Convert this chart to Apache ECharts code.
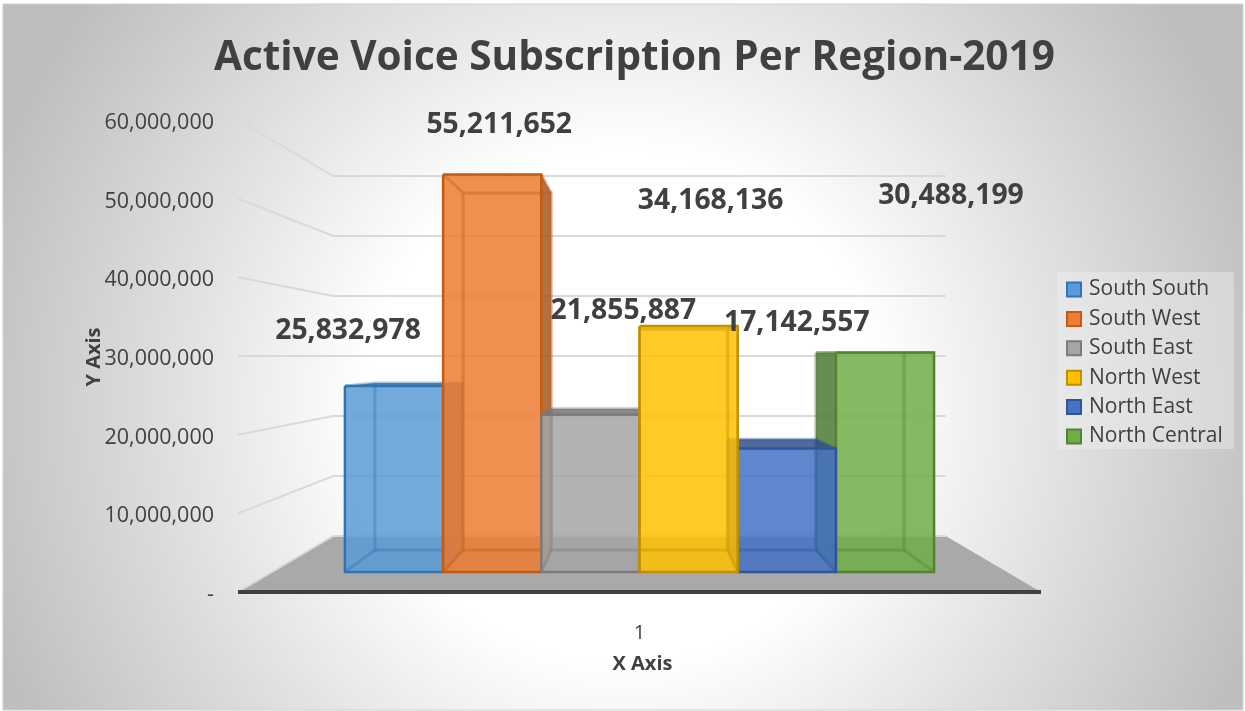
<!DOCTYPE html>
<html>
<head>
<meta charset="utf-8">
<style>
  html, body { margin: 0; padding: 0; background: #fff; }
  #chart { width: 1245px; height: 711px; }
</style>
<script src="https://cdn.jsdelivr.net/npm/echarts@6/dist/echarts.min.js"></script>
</head>
<body>
<div id="chart"></div>
<script>
const categories = ['1']
const regions = ['South South', 'South West', 'South East', 'North West', 'North East', 'North Central']
const subscriptions = [25832978, 55211652, 21855887, 34168136, 17142557, 30488199]
const yTicks = [0, 10000000, 20000000, 30000000, 40000000, 50000000, 60000000]

const fills = ['#5B9BD5', '#ED7D31', '#A5A5A5', '#FFC000', '#4472C4', '#70AD47']
const edges = ['#2E75B6', '#C55A11', '#7B7B7B', '#BF9000', '#2F5597', '#548235']
const sides = ['#3F6D95', '#A65822', '#747474', '#B38600', '#305089', '#4E7931']
// outer bars get painted first, the middle ones overlap them
const paintOrder = [0, 2, 4, 5, 3, 1]
// excel left the data labels in odd places, offset from the bar's top centre
const labelShift = [[-46, -55], [7, -50], [33, -104], [22, -125], [10, -126], [66, -157]]

const FONT = "'Open Sans', sans-serif"
const TEXT = '#404040'

// fake 3d: t=0 is the axis plane, t=1 the back wall
const FLOOR_DROP = 56
const SHRINK = 0.2373
const BAR_FRONT = 0.357
const BAR_BACK = 0.75
const BAR_SHARE = 0.1336

function project(api, xOff, value, t) {
  const base = api.coord([0, 0])
  const p = api.coord([0, value])
  const k = 1 - SHRINK * t
  return [base[0] + xOff * k, base[1] - FLOOR_DROP * t + (p[1] - base[1]) * k]
}

function poly(points, style) {
  return { type: 'polygon', silent: true, shape: { points }, style }
}

function line(points, stroke, width) {
  return { type: 'polyline', silent: true, shape: { points }, style: { stroke, fill: 'none', lineWidth: width } }
}

function renderFloor(params, api) {
  const half = api.size([1, 0])[0] / 2
  const pts = [project(api, -half, 0, 0), project(api, half, 0, 0), project(api, half, 0, 1), project(api, -half, 0, 1)]
  return poly(pts, { fill: '#A9A9A9' })
}

function renderWallLine(params, api) {
  const half = api.size([1, 0])[0] / 2
  const v = api.value(1)
  return line([project(api, -half, v, 0), project(api, -half, v, 1), project(api, half, v, 1)], '#D9D9D9', 2)
}

function renderBar(idx) {
  return function (params, api) {
    const band = api.size([1, 0])[0]
    const w = band * BAR_SHARE
    const x0 = (idx - regions.length / 2) * w
    const x1 = x0 + w
    const v = api.value(1)
    const c = (x, val, t) => project(api, x, val, t)

    const fbl = c(x0, 0, BAR_FRONT), fbr = c(x1, 0, BAR_FRONT)
    const ftl = c(x0, v, BAR_FRONT), ftr = c(x1, v, BAR_FRONT)
    const bbl = c(x0, 0, BAR_BACK), bbr = c(x1, 0, BAR_BACK)
    const btl = c(x0, v, BAR_BACK), btr = c(x1, v, BAR_BACK)

    const children = []
    const shade = { fill: sides[idx], opacity: 0.85 }
    // only the faces that stick out past the front get shaded
    if (bbr[0] > fbr[0]) children.push(poly([ftr, btr, bbr, fbr], shade))
    if (bbl[0] < fbl[0]) children.push(poly([ftl, btl, bbl, fbl], shade))
    if (btl[1] < ftl[1]) children.push(poly([ftl, ftr, btr, btl], shade))

    children.push(poly([ftl, ftr, fbr, fbl], { fill: fills[idx], opacity: 0.85 }))

    const inner = echarts.color.modifyAlpha(edges[idx], 0.4)
    children.push(line([btl, btr, bbr, bbl, btl], inner, 3))
    children.push(line([ftl, btl], inner, 3), line([ftr, btr], inner, 3))
    children.push(line([fbl, bbl], inner, 3), line([fbr, bbr], inner, 3))
    children.push(line([ftl, ftr, fbr, fbl, ftl], edges[idx], 2.5))
    return { type: 'group', children }
  }
}

function renderLabel(params, api) {
  const idx = params.dataIndex
  const band = api.size([1, 0])[0]
  const w = band * BAR_SHARE
  const pos = project(api, (idx - regions.length / 2 + 0.5) * w, api.value(1), BAR_FRONT)
  return {
    type: 'text', silent: true,
    x: pos[0] + labelShift[idx][0],
    y: pos[1] + labelShift[idx][1],
    style: {
      text: subscriptions[idx].toLocaleString('en-US'),
      fill: TEXT, font: 'bold 28.3px ' + FONT, align: 'center', verticalAlign: 'middle'
    }
  }
}

const barSeries = regions.map((name, i) => ({
  name,
  type: 'custom',
  renderItem: renderBar(i),
  data: [[0, subscriptions[i]]],
  z: 5 + paintOrder[i],
  itemStyle: { color: fills[i], borderColor: edges[i], borderWidth: 2 }
}))

const chart = echarts.init(document.getElementById('chart'), null, { renderer: 'canvas' })

chart.setOption({
  animation: false,
  title: {
    text: 'Active Voice Subscription Per Region-2019',
    left: 214, top: 38,
    padding: 0,
    textStyle: { color: TEXT, fontFamily: FONT, fontWeight: 'bold', fontSize: 40.5 }
  },
  graphic: [
    {
      type: 'rect', z: -10, silent: true,
      shape: { x: 3, y: 4, width: 1240, height: 706 },
      style: {
        stroke: '#D0D0D0', lineWidth: 1,
        fill: new echarts.graphic.RadialGradient(0.5, 0.57, 0.95, [
          { offset: 0, color: '#FFFFFF' },
          { offset: 0.38, color: '#FFFFFF' },
          { offset: 0.65, color: '#E2E2E2' },
          { offset: 1, color: '#BEBEBE' }
        ])
      }
    },
    {
      // the axis name gets pushed clear of the tick labels, so it goes here instead
      type: 'text', silent: true, z: 10,
      x: 94, y: 357, rotation: Math.PI / 2,
      style: { text: 'Y Axis', fill: TEXT, font: 'bold 20px ' + FONT, align: 'center', verticalAlign: 'middle' }
    }
  ],
  legend: {
    data: regions,
    orient: 'vertical',
    left: 1057, top: 272,
    padding: [7, 11, 2, 9],
    itemWidth: 14, itemHeight: 14, itemGap: 8.4,
    backgroundColor: 'rgba(242,242,242,0.39)',
    selectedMode: false,
    icon: 'rect',
    textStyle: { color: TEXT, fontFamily: FONT, fontSize: 21, padding: [0, 0, 0, 3] }
  },
  grid: { left: 238, right: 204, top: 120, bottom: 119 },
  xAxis: {
    type: 'category',
    z: 3,
    data: categories,
    name: 'X Axis',
    nameLocation: 'middle',
    nameMoveOverlap: false,
    nameGap: 62,
    nameTextStyle: { color: TEXT, fontFamily: FONT, fontWeight: 'bold', fontSize: 20, padding: [0, 0, 0, 6] },
    axisLine: { lineStyle: { color: '#404040', width: 4, cap: 'butt' } },
    axisTick: { show: false },
    axisLabel: { color: TEXT, fontFamily: FONT, fontSize: 20, margin: 31 }
  },
  yAxis: {
    type: 'value',
    min: 0, max: 60000000, interval: 10000000,
    axisLine: { show: false },
    axisTick: { show: false },
    splitLine: { show: false },
    axisLabel: {
      margin: 24,
      formatter: v => '{a|' + (v === 0 ? '-' : v.toLocaleString('en-US')) + '}',
      rich: { a: { color: TEXT, fontFamily: FONT, fontSize: 21.5, padding: [6, 0, 0, 0] } }
    }
  },
  series: [
    { type: 'custom', name: 'floor', renderItem: renderFloor, data: [[0, 0]], z: 1, silent: true },
    { type: 'custom', name: 'wall', renderItem: renderWallLine, data: yTicks.map(v => [0, v]), z: 2, silent: true },
    ...barSeries,
    { type: 'custom', name: 'labels', renderItem: renderLabel, data: subscriptions.map(v => [0, v]), z: 20, silent: true }
  ]
})
</script>
</body>
</html>
